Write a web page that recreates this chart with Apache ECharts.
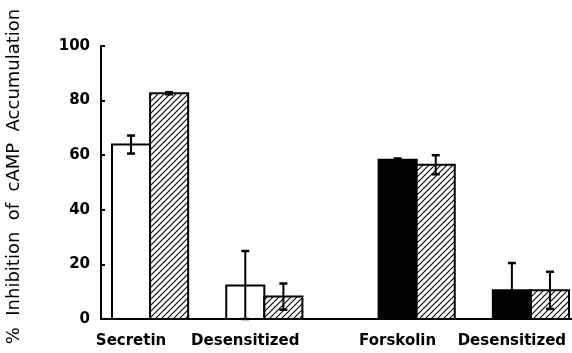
<!DOCTYPE html>
<html>
<head>
<meta charset="utf-8">
<script src="https://cdn.jsdelivr.net/npm/echarts@6/dist/echarts.min.js"></script>
<style>
  html, body { margin: 0; padding: 0; background: #fff; }
  #chart { width: 572px; height: 353px; }
</style>
</head>
<body>
<div id="chart"></div>
<script>
// Group labels along the x axis
const categories = ['Secretin', 'Desensitized', 'Forskolin', 'Desensitized'];
// First bar of each pair (open for secretin, solid for forskolin)
const firstValues = [63.9, 12.3, 58.3, 10.5];
const firstErrors = [3.3, 12.6, 0.5, 10];
const firstFills = ['#ffffff', '#ffffff', '#000000', '#000000'];
// Second (hatched) bar of each pair
const hatchedValues = [82.7, 8.2, 56.5, 10.5];
const hatchedErrors = [0.4, 4.8, 3.5, 6.8];
// Y axis ticks and title
const yTicks = [0, 20, 40, 60, 80, 100];
const yTitle = '%  Inhibition  of  cAMP  Accumulation';

// Slot layout on the category axis: each bar takes one slot, pairs sit side by side
const slotCount = 12;
const groupSlots = [0, 3, 7, 10];

const slotLabels = new Array(slotCount).fill('');
groupSlots.forEach((s, i) => { slotLabels[s] = categories[i]; });

// Diagonal hatch pattern
function hatchPattern() {
  const size = 6;
  const c = document.createElement('canvas');
  c.width = size; c.height = size;
  const ctx = c.getContext('2d');
  ctx.fillStyle = '#fff';
  ctx.fillRect(0, 0, size, size);
  ctx.strokeStyle = '#000';
  ctx.lineWidth = 1.1;
  ctx.beginPath();
  for (let k = -1; k <= 1; k++) {
    ctx.moveTo(-1 + k * size, size + 1);
    ctx.lineTo(size + 1 + k * size, -1);
  }
  ctx.stroke();
  return { image: c, repeat: 'repeat' };
}
const hatch = hatchPattern();

// Bar rows: [slot, value, error, fillIndex] where fillIndex picks the fill
const fills = { open: '#ffffff', solid: '#000000' };
const barRows = [];
groupSlots.forEach((s, i) => {
  barRows.push([s, firstValues[i], firstErrors[i], firstFills[i] === '#000000' ? 1 : 0]);
  barRows.push([s + 1, hatchedValues[i], hatchedErrors[i], 2]);
});
const fillFor = [fills.open, fills.solid, hatch];

const yMin = yTicks[0], yMax = yTicks[yTicks.length - 1];
const yStep = yTicks[1] - yTicks[0];

const chart = echarts.init(document.getElementById('chart'), null, { renderer: 'canvas' });
chart.setOption({
  animation: false,
  backgroundColor: '#fff',
  grid: [
    { left: 112, right: 3, top: 46, bottom: 34 },
    { left: 101, right: 0, top: 46, bottom: 34 }
  ],
  xAxis: [
    {
      type: 'category', gridIndex: 0, data: slotLabels,
      axisLine: { show: false }, axisTick: { show: false },
      axisLabel: {
        interval: 0, margin: 15, color: '#000',
        fontFamily: 'DejaVu Sans', fontWeight: 'bold', fontSize: 15
      }
    },
    {
      type: 'value', gridIndex: 1, min: 0, max: 1,
      axisLine: { show: true, lineStyle: { color: '#000', width: 2 } },
      axisTick: { show: false }, axisLabel: { show: false }, splitLine: { show: false }
    }
  ],
  yAxis: [
    { type: 'value', gridIndex: 0, min: yMin, max: yMax, show: false },
    {
      type: 'value', gridIndex: 1, min: yMin, max: yMax, interval: yStep,
      axisLine: { show: true, lineStyle: { color: '#000', width: 2 } },
      axisTick: { show: true, inside: true, length: 4, lineStyle: { color: '#000', width: 2 } },
      splitLine: { show: false },
      axisLabel: {
        margin: 11, color: '#000',
        fontFamily: 'DejaVu Sans', fontWeight: 'bold', fontSize: 15
      }
    }
  ],
  graphic: [{
    type: 'text', left: 5, top: 'middle', rotation: Math.PI / 2,
    style: {
      text: yTitle, fill: '#000',
      font: '18px "DejaVu Sans"'
    }
  }],
  series: [
    {
      // Bars: each fills its whole slot so neighbours share one outline
      type: 'custom', xAxisIndex: 0, yAxisIndex: 0, z: 2,
      data: barRows,
      renderItem: function (params, api) {
        const x = api.value(0), v = api.value(1), f = api.value(3);
        const top = api.coord([x, v]);
        const base = api.coord([x, yMin]);
        const w = api.size([1, 0])[0];
        return {
          type: 'rect',
          shape: { x: top[0] - w / 2, y: top[1], width: w, height: base[1] - top[1] },
          style: { fill: fillFor[f], stroke: '#000', lineWidth: 2 }
        };
      }
    },
    {
      // Error bars with caps at both ends
      type: 'custom', xAxisIndex: 0, yAxisIndex: 0, z: 5,
      data: barRows,
      renderItem: function (params, api) {
        const x = api.value(0), v = api.value(1), e = api.value(2);
        const top = api.coord([x, v + e]);
        const bot = api.coord([x, Math.max(yMin, v - e)]);
        const half = 4;
        return {
          type: 'group',
          children: [
            { type: 'line', shape: { x1: top[0], y1: top[1], x2: bot[0], y2: bot[1] }, style: { stroke: '#000', lineWidth: 2 } },
            { type: 'line', shape: { x1: top[0] - half, y1: top[1], x2: top[0] + half, y2: top[1] }, style: { stroke: '#000', lineWidth: 2.5 } },
            { type: 'line', shape: { x1: bot[0] - half, y1: bot[1], x2: bot[0] + half, y2: bot[1] }, style: { stroke: '#000', lineWidth: 2.5 } }
          ]
        };
      }
    }
  ]
});
</script>
</body>
</html>
